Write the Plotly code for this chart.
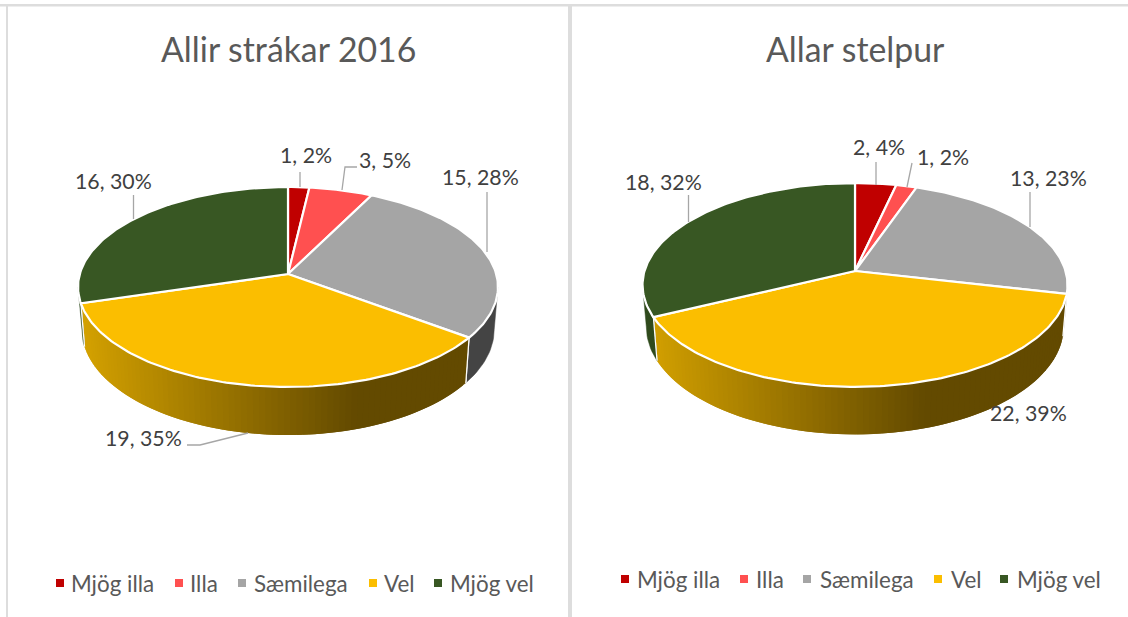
import numpy as np
import plotly.graph_objects as go

# ---------- data ----------
categories = ["Mjög illa", "Illa", "Sæmilega", "Vel", "Mjög vel"]
boys_values = [1, 3, 15, 19, 16]
girls_values = [2, 1, 13, 22, 18]
boys_percent = ["2%", "5%", "28%", "35%", "30%"]
girls_percent = ["4%", "2%", "23%", "39%", "32%"]
boys_title = "Allir strákar 2016"
girls_title = "Allar stelpur"

# ---------- style ----------
top_colors = ["#C00000", "#FF5050", "#A5A5A5", "#FBBE00", "#385723"]
wall_colors = ["#7A0000", "#A03030", "#444444", None, "#2F4A1C"]
GOLD_LEFT = np.array([0xD6, 0xA3, 0x00])
GOLD_RIGHT = np.array([0x63, 0x4A, 0x00])
FONT = "Lato"
TXT = "#404040"
LEG = "#595959"

boys_geo = dict(cx=288, cy=274, b=208.2, a=98.3, k=0.13, t=41.8)
girls_geo = dict(cx=855, cy=271, b=210.5, a=100.0, k=0.137, t=41.0)

boys_lab = dict(
    x=[306, 385, 480, 143.5, 113.5], y=[155, 160, 177, 438, 181],
    leaders=[[(300, 172), (300, 187)],
             [(357, 167), (345, 167), (342, 190)],
             [(487, 192), (487, 252)],
             [(248, 433), (200, 445), (187, 445)],
             [(133.5, 195), (133.5, 219)]])
girls_lab = dict(
    x=[879, 943, 1048, 1028, 663.5], y=[147, 157, 178, 413, 182],
    leaders=[[(876, 162), (876, 185)],
             [(912, 163), (907, 187)],
             [(1030, 192), (1030, 227)],
             [],
             [(688.5, 195), (688.5, 222)]])
boys_leg = dict(mx=[60, 179, 242, 373, 438], tx=[69, 188, 252, 382, 448], y=583)
girls_leg = dict(mx=[625, 744, 807, 938, 1004], tx=[635, 754, 818, 949, 1015], y=579)


def project(theta, g, depth=0.0):
    """Map a clockwise-from-top disc angle to the tilted perspective view."""
    u, v = np.sin(theta), -np.cos(theta)
    w = 1 - g["k"] * v
    shrink = 1 - 0.018 * depth
    x = g["cx"] + g["b"] * u / w * shrink
    y = g["cy"] + g["a"] * v / w + depth * g["t"] / w
    return x, y


def poly(fig, x, y, fill, line, width):
    fig.add_trace(go.Scatter(x=list(x), y=list(y), mode="lines", fill="toself",
                             fillcolor=fill, line=dict(color=line, width=width),
                             hoverinfo="skip", showlegend=False))


def draw_pie(fig, values, percents, geo, lab, leg, title, title_x, title_y):
    vals = np.array(values, float)
    edges = np.concatenate([[0], np.cumsum(vals)]) / vals.sum() * 2 * np.pi
    left_x = geo["cx"] - geo["b"]
    span = 2 * geo["b"] * 0.69
    for i in range(len(vals)):
        # outer walls, visible only on the near side of the silhouette
        a0 = max(edges[i], np.pi / 2 + np.arcsin(geo["k"]))
        a1 = min(edges[i + 1], 3 * np.pi / 2 - np.arcsin(geo["k"]))
        if a1 <= a0:
            continue
        n = max(2, int((a1 - a0) / np.radians(1.5)))
        th = np.linspace(a0, a1, n + 1)
        if wall_colors[i] is None:
            # painted from the dark end to the light end, each strip overlapping the next
            for j in range(n - 1, -1, -1):
                tt = np.array([th[j], th[min(j + 2, n)]])
                xt, yt = project(tt, geo)
                xb, yb = project(tt[::-1], geo, 1.0)
                s = np.clip((project(th[j:j + 1] + 0.0, geo)[0][0] - left_x) / span, 0, 1)
                c = GOLD_LEFT + (GOLD_RIGHT - GOLD_LEFT) * s
                col = "rgb(%d,%d,%d)" % tuple(c)
                poly(fig, np.r_[xt, xb, xt[0]], np.r_[yt, yb, yt[0]], col, col, 0)
        else:
            xt, yt = project(th, geo)
            xb, yb = project(th[::-1], geo, 1.0)
            poly(fig, np.r_[xt, xb, xt[0]], np.r_[yt, yb, yt[0]],
                 wall_colors[i], wall_colors[i], 0.5)
        for edge, a in ((edges[i], a0), (edges[i + 1], a1)):
            if abs(edge - a) < 1e-9:
                xe, ye = project(np.array([a]), geo)
                xf, yf = project(np.array([a]), geo, 1.0)
                fig.add_trace(go.Scatter(x=[xe[0], xf[0]], y=[ye[0], yf[0]], mode="lines",
                                         line=dict(color="white", width=1.2),
                                         hoverinfo="skip", showlegend=False))
    # top face
    for i in range(len(vals)):
        n = max(4, int((edges[i + 1] - edges[i]) / np.radians(1)))
        th = np.linspace(edges[i], edges[i + 1], n + 1)
        x, y = project(th, geo)
        poly(fig, np.r_[geo["cx"], x, geo["cx"]], np.r_[geo["cy"], y, geo["cy"]],
             top_colors[i], "white", 2.2)
    # leader lines and data labels
    for i in range(len(vals)):
        pts = lab["leaders"][i]
        if pts:
            fig.add_trace(go.Scatter(x=[p[0] for p in pts], y=[p[1] for p in pts], mode="lines",
                                     line=dict(color="#A6A6A6", width=1.3),
                                     hoverinfo="skip", showlegend=False))
        fig.add_annotation(x=lab["x"][i], y=lab["y"][i], showarrow=False,
                           text=f"{values[i]}, {percents[i]}",
                           font=dict(family=FONT, size=21.3, color=TXT))
    # legend row
    for i, name in enumerate(categories):
        fig.add_trace(go.Scatter(x=[leg["mx"][i]], y=[leg["y"]], mode="markers", name=name,
                                 marker=dict(symbol="square", size=8, color=top_colors[i]),
                                 hoverinfo="skip", showlegend=False))
        fig.add_annotation(x=leg["tx"][i], y=leg["y"], showarrow=False, xanchor="left",
                           text=name, font=dict(family=FONT, size=22.4, color=LEG))
    fig.add_annotation(x=title_x, y=title_y, showarrow=False, text=title,
                       font=dict(family=FONT, size=33.8, color=LEG))


fig = go.Figure()
draw_pie(fig, boys_values, boys_percent, boys_geo, boys_lab, boys_leg, boys_title, 288, 49)
draw_pie(fig, girls_values, girls_percent, girls_geo, girls_lab, girls_leg, girls_title, 855, 49)

GRID = "#DDDDDD"
shapes = [
    dict(type="rect", x0=0, x1=1128, y0=4, y1=6.5, fillcolor=GRID, line_width=0, layer="below"),
    dict(type="rect", x0=6, x1=8, y0=4, y1=617, fillcolor=GRID, line_width=0, layer="below"),
    dict(type="rect", x0=568, x1=572, y0=4, y1=617, fillcolor=GRID, line_width=0, layer="below"),
]
fig.update_layout(
    width=1128, height=617, autosize=False,
    margin=dict(l=0, r=0, t=0, b=0),
    paper_bgcolor="white", plot_bgcolor="white",
    xaxis=dict(range=[0, 1128], visible=False, fixedrange=True),
    yaxis=dict(range=[617, 0], visible=False, fixedrange=True),
    shapes=shapes, showlegend=False,
)
fig.write_html("out.html", config={"displayModeBar": False},
               post_script="document.body.style.margin='0';document.body.style.overflow='hidden';")
